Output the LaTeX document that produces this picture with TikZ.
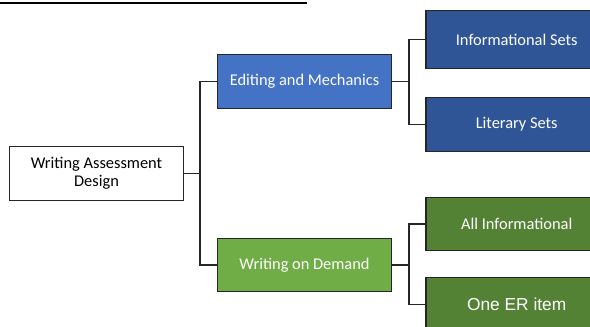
\documentclass[tikz,border=0pt]{standalone}
\usepackage{fontspec}
\setmainfont{Carlito}
\newfontfamily\arialfont{Liberation Sans}
\usetikzlibrary{positioning}

\definecolor{bluemid}{HTML}{4472C4}
\definecolor{bluedark}{HTML}{2F5597}
\definecolor{greenmid}{HTML}{70AD47}
\definecolor{greendark}{HTML}{548235}

\tikzset{
  box/.style={draw=black!85, line width=0.9pt, minimum width=131pt,
              minimum height=40pt, align=center, font=\fontsize{12.3}{13.5}\selectfont},
  midbox/.style={box, text=white},
  leafbox/.style={box, text=white, minimum width=136pt},
  link/.style={line width=1.1pt, black!85}
}

\begin{document}
\begin{tikzpicture}[x=0.75pt, y=-0.75pt]
\clip (0,0) rectangle (590,327);
\useasboundingbox (0,0) rectangle (590,327);

% Riga in alto (tagliata)
\draw[line width=1.6pt] (0,3) -- (307,3);

% Radice
\node[box, minimum width=130pt] (root) at (96.5,173.5) {Writing Assessment\\Design};

% Secondo livello
\node[midbox, fill=bluemid] (edit) at (304.5,81.5) {Editing and Mechanics};
\node[midbox, fill=greenmid] (demand) at (304.5,265) {Writing on Demand};

% Foglie blu
\node[leafbox, fill=bluedark, minimum height=44pt] (info) at (516.7,39.5) {Informational Sets};
\node[leafbox, fill=bluedark, minimum height=41pt] (lit) at (516.7,124.5) {Literary Sets};

% Foglie verdi
\node[leafbox, fill=greendark] (allinfo) at (516.7,224) {All Informational};
\node[leafbox, fill=greendark, font=\arialfont\fontsize{13}{15}\selectfont] (er) at (516.7,304.5) {One ER item};

% Connettori a gomito
\coordinate (s1) at (200,173.5);
\coordinate (s2) at (409,81.5);
\coordinate (s3) at (409,265);
\draw[link] (root.east) -- (s1);
\draw[link] (edit.west) -| (s1) |- (demand.west);
\draw[link] (edit.east) -- (s2);
\draw[link] (info.west) -| (s2) |- (lit.west);
\draw[link] (demand.east) -- (s3);
\draw[link] (allinfo.west) -| (s3) |- (er.west);

\end{tikzpicture}
\end{document}
